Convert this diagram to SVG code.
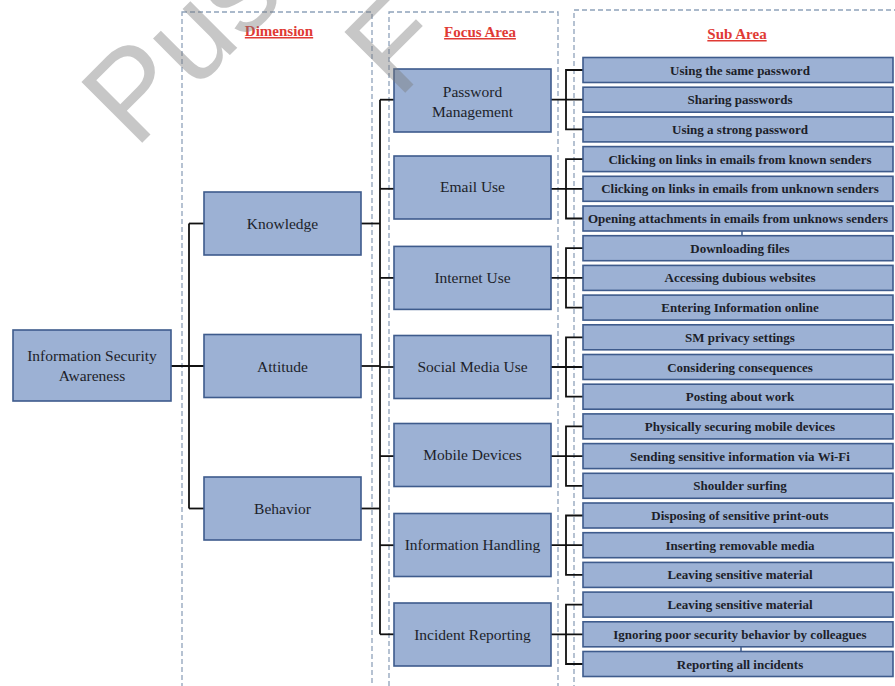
<svg xmlns="http://www.w3.org/2000/svg" width="895" height="686" viewBox="0 0 895 686">
<style>
.col{fill:none;stroke:#8fa2bb;stroke-width:1.3;stroke-dasharray:5 3}
.hdr{font-family:"Liberation Serif","Times New Roman",serif;font-weight:bold;font-size:15px;fill:#e03a34;text-anchor:middle;text-decoration:underline}
.box{fill:#9cb1d4;stroke:#3e5b8c;stroke-width:1.6}
.lbl{font-family:"Liberation Serif","Times New Roman",serif;font-size:15.5px;fill:#1c1f2a;text-anchor:middle}
.sub{font-family:"Liberation Serif","Times New Roman",serif;font-weight:bold;font-size:13px;fill:#1c1f2a;text-anchor:middle}
.con{fill:none;stroke:#111;stroke-width:1.8}
.tick{stroke:#3e5b8c;stroke-width:1.5}
.wm{font-family:"Liberation Sans",Arial,sans-serif;font-size:125px;fill:#7a7a7a;fill-opacity:0.42}
</style>

<g id="columns">
  <rect class="col" x="182" y="12" width="190" height="700"/>
  <rect class="col" x="389" y="12" width="169" height="700"/>
  <rect class="col" x="574" y="10" width="340" height="700"/>
  <text class="hdr" x="279" y="36">Dimension</text>
  <text class="hdr" x="480" y="37">Focus Area</text>
  <text class="hdr" x="737" y="39">Sub Area</text>
</g>

<g id="connectors">
  <!-- root to dimensions -->
  <line class="con" x1="171" y1="366" x2="204" y2="366"/>
  <line class="con" x1="189" y1="223.5" x2="189" y2="508.5"/>
  <line class="con" x1="189" y1="223.5" x2="204" y2="223.5"/>
  <line class="con" x1="189" y1="508.5" x2="204" y2="508.5"/>
  <!-- dimensions to focus -->
  <line class="con" x1="361" y1="223.5" x2="380" y2="223.5"/>
  <line class="con" x1="361" y1="366" x2="380" y2="366"/>
  <line class="con" x1="361" y1="508.5" x2="380" y2="508.5"/>
  <line class="con" x1="380" y1="99.7" x2="380" y2="634.3"/>
  <line class="con" x1="380" y1="99.7" x2="394" y2="99.7"/>
  <line class="con" x1="380" y1="188.8" x2="394" y2="188.8"/>
  <line class="con" x1="380" y1="277.9" x2="394" y2="277.9"/>
  <line class="con" x1="380" y1="367" x2="394" y2="367"/>
  <line class="con" x1="380" y1="456.1" x2="394" y2="456.1"/>
  <line class="con" x1="380" y1="545.2" x2="394" y2="545.2"/>
  <line class="con" x1="380" y1="634.3" x2="394" y2="634.3"/>
  <!-- focus to sub areas -->
  <path class="con" d="M583 70 H566 V129.4 H583 M551 99.7 H583"/>
  <path class="con" d="M583 159.1 H566 V218.5 H583 M551 188.8 H583"/>
  <path class="con" d="M583 248.2 H566 V307.6 H583 M551 277.9 H583"/>
  <path class="con" d="M583 337.3 H566 V396.7 H583 M551 367 H583"/>
  <path class="con" d="M583 426.4 H566 V485.8 H583 M551 456.1 H583"/>
  <path class="con" d="M583 515.5 H566 V574.9 H583 M551 545.2 H583"/>
  <path class="con" d="M583 604.6 H566 V664 H583 M551 634.3 H583"/>
  <line class="tick" x1="742" y1="231" x2="742" y2="236"/>
  <line class="tick" x1="741" y1="647" x2="741" y2="652"/>
</g>

<g id="root"><rect class="box" x="13" y="330" width="158" height="71"/><text class="lbl" x="92" y="361">Information Security</text><text class="lbl" x="92" y="381">Awareness</text></g>

<g id="dim-knowledge"><rect class="box" x="204" y="192" width="157" height="63"/><text class="lbl" x="282.5" y="229">Knowledge</text></g>
<g id="dim-attitude"><rect class="box" x="204" y="334.5" width="157" height="63"/><text class="lbl" x="282.5" y="371.5">Attitude</text></g>
<g id="dim-behavior"><rect class="box" x="204" y="477" width="157" height="63"/><text class="lbl" x="282.5" y="514">Behavior</text></g>

<g id="focus-password"><rect class="box" x="394" y="69" width="157" height="63"/><text class="lbl" x="472.5" y="97">Password</text><text class="lbl" x="472.5" y="117">Management</text></g>
<g id="focus-email"><rect class="box" x="394" y="156" width="157" height="63"/><text class="lbl" x="472.5" y="192">Email Use</text></g>
<g id="focus-internet"><rect class="box" x="394" y="246.4" width="157" height="63"/><text class="lbl" x="472.5" y="283">Internet Use</text></g>
<g id="focus-social"><rect class="box" x="394" y="335.5" width="157" height="63"/><text class="lbl" x="472.5" y="372">Social Media Use</text></g>
<g id="focus-mobile"><rect class="box" x="394" y="423.5" width="157" height="63"/><text class="lbl" x="472.5" y="460">Mobile Devices</text></g>
<g id="focus-info"><rect class="box" x="394" y="513.5" width="157" height="63"/><text class="lbl" x="472.5" y="550">Information Handling</text></g>
<g id="focus-incident"><rect class="box" x="394" y="603" width="157" height="63"/><text class="lbl" x="472.5" y="640">Incident Reporting</text></g>

<g id="sub-1"><rect class="box" x="583" y="57.5" width="310" height="25"/><text class="sub" x="740" y="74.5">Using the same password</text></g>
<g id="sub-2"><rect class="box" x="583" y="87.2" width="310" height="25"/><text class="sub" x="740" y="104.2">Sharing passwords</text></g>
<g id="sub-3"><rect class="box" x="583" y="116.9" width="310" height="25"/><text class="sub" x="740" y="133.9">Using a strong password</text></g>
<g id="sub-4"><rect class="box" x="583" y="146.6" width="310" height="25"/><text class="sub" x="740" y="163.6">Clicking on links in emails from known senders</text></g>
<g id="sub-5"><rect class="box" x="583" y="176.3" width="310" height="25"/><text class="sub" x="740" y="193.3">Clicking on links in emails from unknown senders</text></g>
<g id="sub-6"><rect class="box" x="583" y="206" width="310" height="25"/><text class="sub" x="738" y="223">Opening attachments in emails from unknows senders</text></g>
<g id="sub-7"><rect class="box" x="583" y="235.7" width="310" height="25"/><text class="sub" x="740" y="252.7">Downloading files</text></g>
<g id="sub-8"><rect class="box" x="583" y="265.4" width="310" height="25"/><text class="sub" x="740" y="282.4">Accessing dubious websites</text></g>
<g id="sub-9"><rect class="box" x="583" y="295.1" width="310" height="25"/><text class="sub" x="740" y="312.1">Entering Information online</text></g>
<g id="sub-10"><rect class="box" x="583" y="324.8" width="310" height="25"/><text class="sub" x="740" y="341.8">SM privacy settings</text></g>
<g id="sub-11"><rect class="box" x="583" y="354.5" width="310" height="25"/><text class="sub" x="740" y="371.5">Considering consequences</text></g>
<g id="sub-12"><rect class="box" x="583" y="384.2" width="310" height="25"/><text class="sub" x="740" y="401.2">Posting about work</text></g>
<g id="sub-13"><rect class="box" x="583" y="413.9" width="310" height="25"/><text class="sub" x="740" y="430.9">Physically securing mobile devices</text></g>
<g id="sub-14"><rect class="box" x="583" y="443.6" width="310" height="25"/><text class="sub" x="740" y="460.6">Sending sensitive information via Wi-Fi</text></g>
<g id="sub-15"><rect class="box" x="583" y="473.3" width="310" height="25"/><text class="sub" x="740" y="490.3">Shoulder surfing</text></g>
<g id="sub-16"><rect class="box" x="583" y="503" width="310" height="25"/><text class="sub" x="740" y="520">Disposing of sensitive print-outs</text></g>
<g id="sub-17"><rect class="box" x="583" y="532.7" width="310" height="25"/><text class="sub" x="740" y="549.7">Inserting removable media</text></g>
<g id="sub-18"><rect class="box" x="583" y="562.4" width="310" height="25"/><text class="sub" x="740" y="579.4">Leaving sensitive material</text></g>
<g id="sub-19"><rect class="box" x="583" y="592.1" width="310" height="25"/><text class="sub" x="740" y="609.1">Leaving sensitive material</text></g>
<g id="sub-20"><rect class="box" x="583" y="621.8" width="310" height="25"/><text class="sub" x="740" y="638.8">Ignoring poor security behavior by colleagues</text></g>
<g id="sub-21"><rect class="box" x="583" y="651.5" width="310" height="25"/><text class="sub" x="740" y="668.5">Reporting all incidents</text></g>

<g id="watermark">
  <text class="wm" transform="translate(135 150) rotate(-45)">Pus</text>
  <text class="wm" transform="translate(398 100) rotate(-45)">F</text>
</g>
</svg>
